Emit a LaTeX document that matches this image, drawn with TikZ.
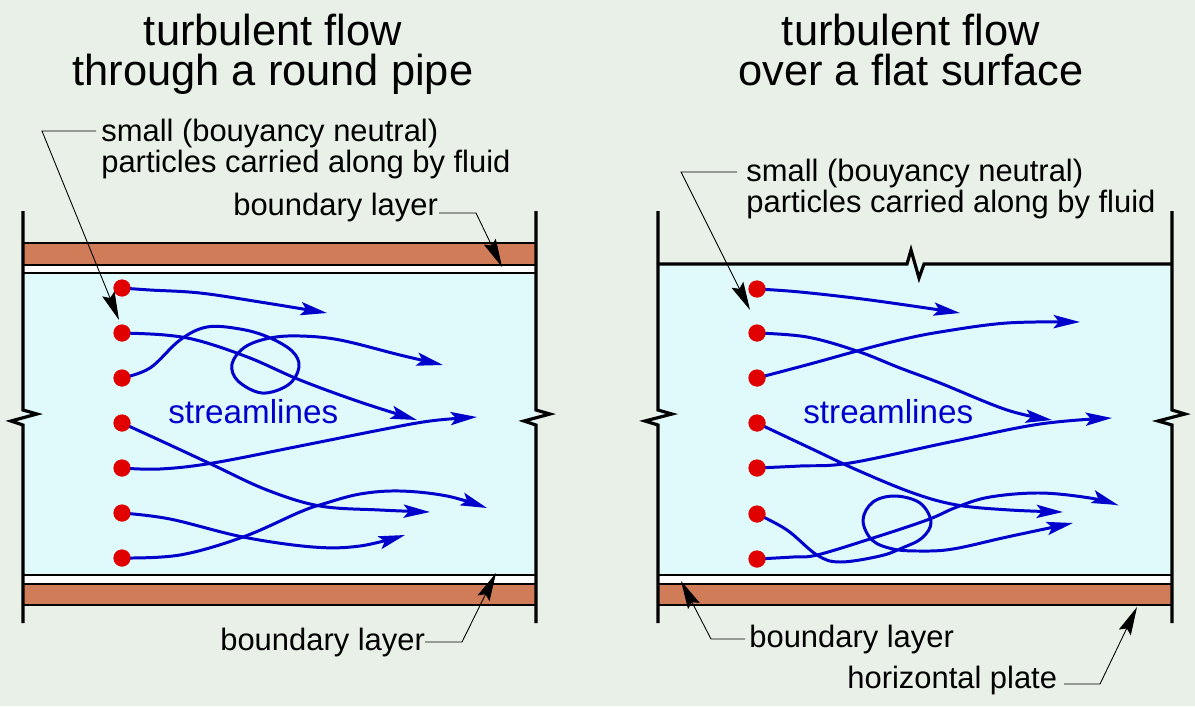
\documentclass[tikz,border=0pt]{standalone}
\usepackage{fontspec}
\setmainfont{Liberation Sans}
\usetikzlibrary{arrows.meta}
\definecolor{back_gray}{RGB}{232,240,232}
\definecolor{fluid_blue}{RGB}{224,250,252}
\definecolor{pipe_brown}{RGB}{208,124,88}
\definecolor{dot_red}{RGB}{225,0,0}
\definecolor{line_blue}{RGB}{0,0,204}

\begin{document}
\begin{tikzpicture}[x=0.02cm,y=-0.02cm]
    \tikzstyle{dot}=[circle, fill=dot_red, minimum size=0.34cm, inner sep=0pt]
    \tikzstyle{stream}=[line_blue, line width=1.7pt, -{Stealth[length=15pt,width=7.5pt,inset=3pt]}]
    \tikzstyle{leader}=[black, line width=0.5pt, -{Stealth[length=16pt,width=7.5pt,inset=2.5pt]}]
    \tikzstyle{wall}=[black, line width=1.8pt]
    \tikzstyle{band}=[draw=black, line width=0.7pt]
    \tikzstyle{title}=[font=\fontsize{24.7}{23.3}\selectfont, align=center, anchor=base, inner sep=0pt]
    \tikzstyle{note}=[font=\fontsize{17.6}{17.4}\selectfont, align=left, anchor=base west, inner sep=0pt]
    \tikzstyle{flow}=[font=\fontsize{18.9}{19}\selectfont, text=line_blue, anchor=base west, inner sep=0pt]

    \useasboundingbox (0,0) rectangle (1195,706);
    \fill[back_gray] (0,0) rectangle (1195,706);

    % round pipe
    \fill[fluid_blue] (23,273) rectangle (536,575);
    \filldraw[band, fill=pipe_brown] (23,243) rectangle (536,265);
    \filldraw[band, fill=white] (23,265) rectangle (536,273);
    \filldraw[band, fill=white] (23,575) rectangle (536,584);
    \filldraw[band, fill=pipe_brown] (23,584) rectangle (536,605);

    % flat surface
    \fill[fluid_blue] (658,264) rectangle (1172,575);
    \filldraw[band, fill=white] (658,575) rectangle (1172,584);
    \filldraw[band, fill=pipe_brown] (658,584) rectangle (1172,605);

    \node[title] (tl) at (273,86)  {turbulent flow\\through a round pipe};
    \node[title] (tr) at (911,86)  {turbulent flow\\over a flat surface};

    \node[dot] (l1) at (122,288) {};
    \node[dot] (l2) at (122,333) {};
    \node[dot] (l3) at (122,378) {};
    \node[dot] (l4) at (122,423) {};
    \node[dot] (l5) at (122,468) {};
    \node[dot] (l6) at (122,513) {};
    \node[dot] (l7) at (122,558) {};

    \node[dot] (r1) at (757,289) {};
    \node[dot] (r2) at (757,333) {};
    \node[dot] (r3) at (757,378) {};
    \node[dot] (r4) at (757,423) {};
    \node[dot] (r5) at (757,468) {};
    \node[dot] (r6) at (757,514) {};
    \node[dot] (r7) at (757,559) {};

    % streamlines, pipe
    \draw[stream] plot[smooth, tension=0.6] coordinates {(l1) (150,290) (200,293) (260,302) (327,313)};
    \draw[stream] plot[smooth, tension=0.6] coordinates {(l2) (165,335) (200,341) (250,358) (300,380) (360,402) (417,420)};
    \draw[stream] plot[smooth, tension=0.6] coordinates {(l3) (150,368) (180,340) (207,327) (240,329) (268,337)
        (292,351) (299,367) (288,385) (262,393) (238,381) (232,364) (245,347) (270,338) (300,336) (340,340) (400,355) (443,365)};
    \draw[stream] plot[smooth, tension=0.6] coordinates {(l4) (170,445) (213,465) (267,490) (320,506) (380,510) (430,512)};
    \draw[stream] plot[smooth, tension=0.6] coordinates {(l5) (160,469) (213,463) (300,446) (380,430) (430,421) (477,417)};
    \draw[stream] plot[smooth, tension=0.6] coordinates {(l6) (170,519) (243,537) (313,547) (360,546) (405,535)};
    \draw[stream] plot[smooth, tension=0.6] coordinates {(l7) (180,555) (243,537) (300,512) (323,504) (360,494) (400,491) (447,496) (487,508)};

    % streamlines, plate
    \draw[stream] plot[smooth, tension=0.6] coordinates {(r1) (800,292) (870,300) (960,313)};
    \draw[stream] plot[smooth, tension=0.6] coordinates {(r2) (807,337) (857,351) (900,368) (940,383) (1007,410) (1052,420)};
    \draw[stream] plot[smooth, tension=0.6] coordinates {(r3) (810,364) (857,351) (900,340) (940,332) (1007,323) (1080,322)};
    \draw[stream] plot[smooth, tension=0.6] coordinates {(r4) (810,448) (857,470) (913,493) (957,505) (1010,510) (1063,512)};
    \draw[stream] plot[smooth, tension=0.6] coordinates {(r5) (800,466) (850,463) (950,442) (1040,424) (1112,418)};
    \draw[stream] plot[smooth, tension=0.6] coordinates {(r6) (787,530) (817,555) (840,562) (880,556) (902,548) (922,538)
        (931,522) (920,503) (895,496) (873,502) (863,520) (872,540) (893,549) (920,551) (953,549) (1007,537) (1073,523)};
    \draw[stream] plot[smooth, tension=0.6] coordinates {(r7) (793,557) (817,555) (873,538) (927,520) (957,507) (990,497) (1040,493) (1090,498) (1118,505)};

    \node[dot] at (l1) {}; \node[dot] at (l2) {}; \node[dot] at (l3) {}; \node[dot] at (l4) {};
    \node[dot] at (l5) {}; \node[dot] at (l6) {}; \node[dot] at (l7) {};
    \node[dot] at (r1) {}; \node[dot] at (r2) {}; \node[dot] at (r3) {}; \node[dot] at (r4) {};
    \node[dot] at (r5) {}; \node[dot] at (r6) {}; \node[dot] at (r7) {};

    % walls with break marks
    \draw[wall] (23,211) -- (23,410) -- (37,414) -- (11,421) -- (23,425) -- (23,623);
    \draw[wall] (536,211) -- (536,410) -- (550,414) -- (524,421) -- (536,425) -- (536,623);
    \draw[wall] (658,211) -- (658,410) -- (672,414) -- (645,421) -- (658,425) -- (658,623);
    \draw[wall] (1172,211) -- (1172,410) -- (1185,414) -- (1158,421) -- (1172,425) -- (1172,623);
    \draw[wall] (658,264) -- (907,264) -- (911,250) -- (919,278) -- (924,264) -- (1172,264);

    \node[flow] (sl) at (168,423) {streamlines};
    \node[flow] (sr) at (803,423) {streamlines};

    \node[note] (pl)  at (101,172) {small (bouyancy neutral)\\particles carried along by fluid};
    \node[note] (pr)  at (746,212) {small (bouyancy neutral)\\particles carried along by fluid};
    \node[note] (bl1) at (233,215) {boundary layer};
    \node[note] (bl2) at (220,650) {boundary layer};
    \node[note] (br)  at (749,647) {boundary layer};
    \node[note] (hp)  at (847,688) {horizontal plate};

    \coordinate (pla) at (96,131);  \coordinate (plb) at (42,131);  \coordinate (plt) at (119,320);
    \coordinate (pra) at (737,172); \coordinate (prb) at (681,172); \coordinate (prt) at (750,310);
    \coordinate (b1a) at (439,213); \coordinate (b1b) at (476,213); \coordinate (b1t) at (502,267);
    \coordinate (b2a) at (425,642); \coordinate (b2b) at (462,642); \coordinate (b2t) at (496,573);
    \coordinate (bra) at (745,639); \coordinate (brb) at (711,639); \coordinate (brt) at (681,581);
    \coordinate (hpa) at (1064,684); \coordinate (hpb) at (1100,684); \coordinate (hpt) at (1137,607);

    \draw[leader] (pla) -- (plb) -- (plt);
    \draw[leader] (pra) -- (prb) -- (prt);
    \draw[leader] (b1a) -- (b1b) -- (b1t);
    \draw[leader] (b2a) -- (b2b) -- (b2t);
    \draw[leader] (bra) -- (brb) -- (brt);
    \draw[leader] (hpa) -- (hpb) -- (hpt);
\end{tikzpicture}
\end{document}
